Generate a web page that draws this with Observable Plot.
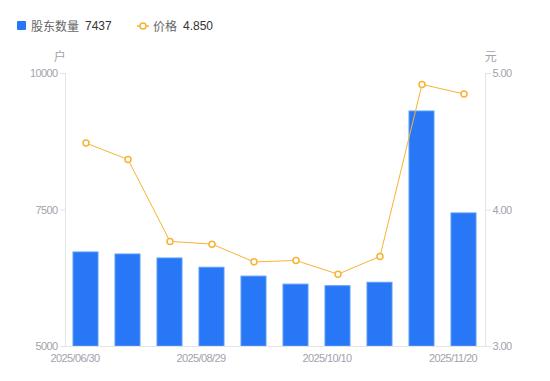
<!DOCTYPE html>
<html>
<head>
<meta charset="utf-8">
<script src="https://cdn.jsdelivr.net/npm/d3@7"></script>
<script src="https://cdn.jsdelivr.net/npm/@observablehq/plot@0.6"></script>
<style>
  body { margin: 0; background: #fff; font-family: "Liberation Sans", "Noto Sans CJK SC", sans-serif; }
  #wrap { width: 550px; height: 381px; position: relative; }
  #legend { position: relative; height: 48px; font-size: 12px; }
  .item { position: absolute; top: 17px; display: flex; align-items: center; white-space: nowrap; }
  .name { color: #666; margin-right: 6px; }
  .val { color: #333; }
  .sq { width: 9px; height: 9px; background: #2777f6; border-radius: 1px; margin-right: 5px; }
</style>
</head>
<body>
<div id="wrap">
  <div id="legend"></div>
  <div id="chart"></div>
</div>
<script>
const dates = ["2025/06/30","2025/07/10","2025/07/31","2025/08/29","2025/09/10","2025/09/30","2025/10/10","2025/10/31","2025/11/10","2025/11/20"];
const holders = [6722, 6685, 6612, 6442, 6280, 6133, 6104, 6167, 9304, 7437];
const prices = [4.49, 4.37, 3.77, 3.75, 3.62, 3.63, 3.53, 3.66, 4.92, 4.85];
const leftTicks = [5000, 7500, 10000];
const priceTicks = [3, 4, 5];
const seriesNames = ["股东数量", "价格"];
const legendValues = ["7437", "4.850"];
const units = ["户", "元"];

const blue = "#2777f6";
const orange = "#f8b333";
const labelColor = "#a2a2ad";
const axisColor = "#e3e4e8";
const axisFont = '"Liberation Sans", "Noto Sans CJK SC", sans-serif';

// map price to holder-scale
const pMin = 3, pMax = 5, hMin = 5000, hMax = 10000;
const p2h = p => hMin + (p - pMin) * (hMax - hMin) / (pMax - pMin);
const h2p = h => pMin + (h - hMin) * (pMax - pMin) / (hMax - hMin);

const data = dates.map((d, i) => ({date: d, holders: holders[i], price: prices[i], ph: p2h(prices[i])}));

// legend
const legend = document.getElementById("legend");
legend.innerHTML = `
  <div class="item" style="left:17px"><div class="sq"></div><span class="name">${seriesNames[0]}</span><span class="val">${legendValues[0]}</span></div>
  <div class="item" style="left:137px"><svg width="12" height="10" style="margin-right:4px"><line x1="0" y1="5" x2="12" y2="5" stroke="${orange}" stroke-width="1.5"/><circle cx="6" cy="5" r="3" fill="#fff" stroke="${orange}" stroke-width="1.5"/></svg><span class="name">${seriesNames[1]}</span><span class="val">${legendValues[1]}</span></div>
`;

const labelled = dates.filter((d, i) => i % 3 === 0);

const chart = Plot.plot({
  width: 550,
  height: 333,
  marginLeft: 65,
  marginRight: 65,
  marginTop: 25,
  marginBottom: 35,
  style: {fontFamily: axisFont, fontSize: "11px", letterSpacing: "-0.6px", overflow: "visible"},
  x: {type: "band", domain: dates, paddingInner: 0.4, paddingOuter: 0.2},
  y: {domain: [hMin, hMax]},
  marks: [
    Plot.barY(data, {x: "date", y1: hMin, y2: "holders", fill: blue, stroke: "#5d9bf8", strokeWidth: 1}),
    Plot.frame({anchor: "left", stroke: axisColor}),
    Plot.frame({anchor: "right", stroke: axisColor}),
    Plot.ruleY([hMin], {stroke: axisColor}),
    Plot.axisY({anchor: "left", ticks: leftTicks, tickSize: 5, tickPadding: 3, stroke: axisColor, color: labelColor, label: null, tickFormat: d => String(d)}),
    Plot.axisY({anchor: "right", ticks: priceTicks.map(p2h), tickSize: 5, tickPadding: 2, stroke: axisColor, color: labelColor, label: null, tickFormat: h => h2p(h).toFixed(2)}),
    Plot.axisX({ticks: labelled, tickSize: 0, tickPadding: 8, color: labelColor, label: null, dx: -11}),
    Plot.line(data, {x: "date", y: "ph", stroke: orange, strokeWidth: 1}),
    Plot.dot(data, {x: "date", y: "ph", r: 3, fill: "#fff", stroke: orange, strokeWidth: 1.5}),
    Plot.text([units[0]], {frameAnchor: "top-left", text: d => d, textAnchor: "middle", lineAnchor: "middle", dx: -6, dy: -16, fill: labelColor, fontSize: 12, fontFamily: '"Noto Sans CJK SC", sans-serif'}),
    Plot.text([units[1]], {frameAnchor: "top-right", text: d => d, textAnchor: "middle", lineAnchor: "middle", dx: 5, dy: -16, fill: labelColor, fontSize: 12, fontFamily: '"Noto Sans CJK SC", sans-serif'})
  ]
});
document.getElementById("chart").appendChild(chart);
</script>
</body>
</html>
